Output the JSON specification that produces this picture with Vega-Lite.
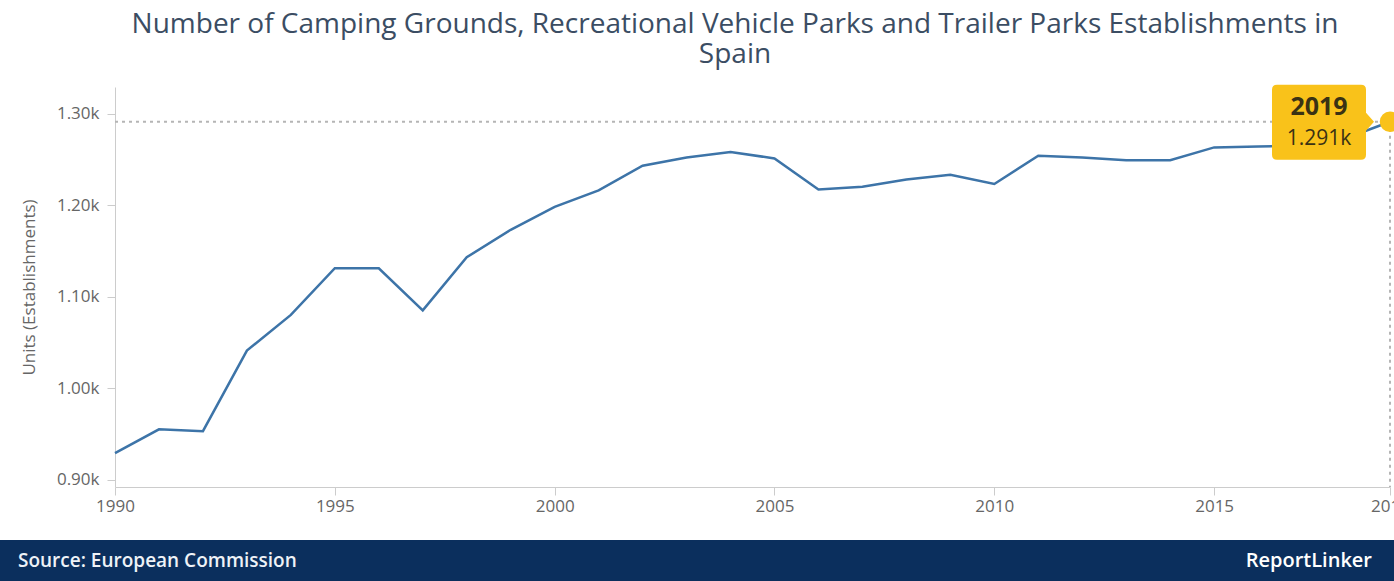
{
  "$schema": "https://vega.github.io/schema/vega-lite/v6.json",
  "padding": {"top": 10, "left": 0, "right": 0, "bottom": 0},
  "background": "white",
  "spacing": 26,
  "config": {"view": {"stroke": null}, "font": "Open Sans"},
  "datasets": {
    "series": [
      {"year": 1990, "value": 929},
      {"year": 1991, "value": 955},
      {"year": 1992, "value": 953},
      {"year": 1993, "value": 1041},
      {"year": 1994, "value": 1080},
      {"year": 1995, "value": 1131},
      {"year": 1996, "value": 1131},
      {"year": 1997, "value": 1085},
      {"year": 1998, "value": 1143},
      {"year": 1999, "value": 1173},
      {"year": 2000, "value": 1198},
      {"year": 2001, "value": 1216},
      {"year": 2002, "value": 1243},
      {"year": 2003, "value": 1252},
      {"year": 2004, "value": 1258},
      {"year": 2005, "value": 1251},
      {"year": 2006, "value": 1217},
      {"year": 2007, "value": 1220},
      {"year": 2008, "value": 1228},
      {"year": 2009, "value": 1233},
      {"year": 2010, "value": 1223},
      {"year": 2011, "value": 1254},
      {"year": 2012, "value": 1252},
      {"year": 2013, "value": 1249},
      {"year": 2014, "value": 1249},
      {"year": 2015, "value": 1263},
      {"year": 2016, "value": 1264},
      {"year": 2017, "value": 1265},
      {"year": 2018, "value": 1273},
      {"year": 2019, "value": 1291}
    ],
    "highlight": [{"year": 2019, "start": 1990, "value": 1291, "base": 892, "label": "1.291k", "yearLabel": "2019"}],
    "footer": [
      {"pos": 0, "text": "Source: European Commission"},
      {"pos": 1, "text": "ReportLinker"}
    ]
  },
  "vconcat": [
    {
      "width": 1394,
      "height": 400,
      "title": {
        "text": ["Number of Camping Grounds, Recreational Vehicle Parks and Trailer Parks Establishments in", "Spain"],
        "fontSize": 28,
        "fontWeight": "normal",
        "font": "Open Sans",
        "color": "#3b4d63",
        "lineHeight": 30,
        "anchor": "middle",
        "frame": "group",
        "dx": 38,
        "offset": 16
      },
      "layer": [
        {
          "data": {"name": "series"},
          "mark": {"type": "line", "color": "#3d74a8", "strokeWidth": 2.5},
          "encoding": {
            "x": {
              "field": "year",
              "type": "quantitative",
              "scale": {"domain": [1990, 2019], "range": [115, 1390], "nice": false, "zero": false},
              "axis": {
                "values": [1990, 1995, 2000, 2005, 2010, 2015, 2019],
                "format": "d",
                "title": null,
                "grid": false,
                "domainColor": "#cccccc",
                "tickColor": "#cccccc",
                "tickSize": 8,
                "labelPadding": 3,
                "labelFontSize": 17,
                "labelColor": "#666666",
                "labelFont": "Open Sans",
                "labelOverlap": false,
                "labelFlush": false
              }
            },
            "y": {
              "field": "value",
              "type": "quantitative",
              "scale": {"domain": [892, 1329], "nice": false, "zero": false},
              "axis": {
                "values": [900, 1000, 1100, 1200, 1300],
                "labelExpr": "format(datum.value / 1000, '.2f') + 'k'",
                "offset": -115,
                "title": "Units (Establishments)",
                "titleFontSize": 17,
                "titleFontWeight": "normal",
                "titleColor": "#666666",
                "titleFont": "Open Sans",
                "titlePadding": 18,
                "grid": false,
                "domainColor": "#cccccc",
                "tickColor": "#cccccc",
                "tickSize": 8,
                "labelPadding": 8,
                "labelFontSize": 17,
                "labelColor": "#666666",
                "labelFont": "Open Sans"
              }
            }
          }
        },
        {
          "data": {"name": "highlight"},
          "mark": {"type": "rule", "color": "#b5b5b5", "strokeWidth": 2, "strokeDash": [3, 4]},
          "encoding": {
            "x": {"field": "start", "type": "quantitative"},
            "x2": {"field": "year"},
            "y": {"field": "value", "type": "quantitative"}
          }
        },
        {
          "data": {"name": "highlight"},
          "mark": {"type": "rule", "color": "#b5b5b5", "strokeWidth": 2, "strokeDash": [3, 4]},
          "encoding": {
            "x": {"field": "year", "type": "quantitative"},
            "y": {"field": "value", "type": "quantitative"},
            "y2": {"field": "base"}
          }
        },
        {
          "data": {"name": "highlight"},
          "mark": {
            "type": "point",
            "filled": true,
            "opacity": 1,
            "color": "#f9c21a",
            "size": 40000,
            "shape": "M -1.13 -0.37 L -0.29 -0.37 Q -0.24 -0.37 -0.24 -0.32 L -0.24 -0.09 L -0.16 0 L -0.24 0.09 L -0.24 0.33 Q -0.24 0.38 -0.29 0.38 L -1.13 0.38 Q -1.18 0.38 -1.18 0.33 L -1.18 -0.32 Q -1.18 -0.37 -1.13 -0.37 Z"
          },
          "encoding": {
            "x": {"field": "year", "type": "quantitative"},
            "y": {"field": "value", "type": "quantitative"}
          }
        },
        {
          "data": {"name": "highlight"},
          "mark": {"type": "circle", "opacity": 1, "color": "#f9c21a", "size": 420},
          "encoding": {
            "x": {"field": "year", "type": "quantitative"},
            "y": {"field": "value", "type": "quantitative"}
          }
        },
        {
          "data": {"name": "highlight"},
          "mark": {"type": "text", "dx": -71, "dy": -15, "fontSize": 25, "fontWeight": "bold", "color": "#3a3214", "font": "Open Sans", "baseline": "middle"},
          "encoding": {
            "x": {"field": "year", "type": "quantitative"},
            "y": {"field": "value", "type": "quantitative"},
            "text": {"field": "yearLabel", "type": "nominal"}
          }
        },
        {
          "data": {"name": "highlight"},
          "mark": {"type": "text", "dx": -71, "dy": 17, "fontSize": 21, "color": "#3a3214", "font": "Open Sans", "baseline": "middle"},
          "encoding": {
            "x": {"field": "year", "type": "quantitative"},
            "y": {"field": "value", "type": "quantitative"},
            "text": {"field": "label", "type": "nominal"}
          }
        }
      ]
    },
    {
      "width": 1394,
      "height": 41,
      "view": {"fill": "#0b2f5d", "stroke": null},
      "data": {"name": "footer"},
      "layer": [
        {
          "transform": [{"filter": "datum.pos == 0"}],
          "mark": {"type": "text", "align": "left", "dx": 18, "baseline": "middle", "fontSize": 19, "fontWeight": 600, "color": "#eef2f7", "font": "Open Sans"},
          "encoding": {
            "x": {"field": "pos", "type": "quantitative", "scale": {"domain": [0, 1]}, "axis": null},
            "text": {"field": "text", "type": "nominal"}
          }
        },
        {
          "transform": [{"filter": "datum.pos == 1"}],
          "mark": {"type": "text", "align": "right", "dx": -22, "baseline": "middle", "fontSize": 20, "fontWeight": 600, "color": "#ffffff", "font": "Open Sans"},
          "encoding": {
            "x": {"field": "pos", "type": "quantitative", "scale": {"domain": [0, 1]}, "axis": null},
            "text": {"field": "text", "type": "nominal"}
          }
        }
      ]
    }
  ]
}
